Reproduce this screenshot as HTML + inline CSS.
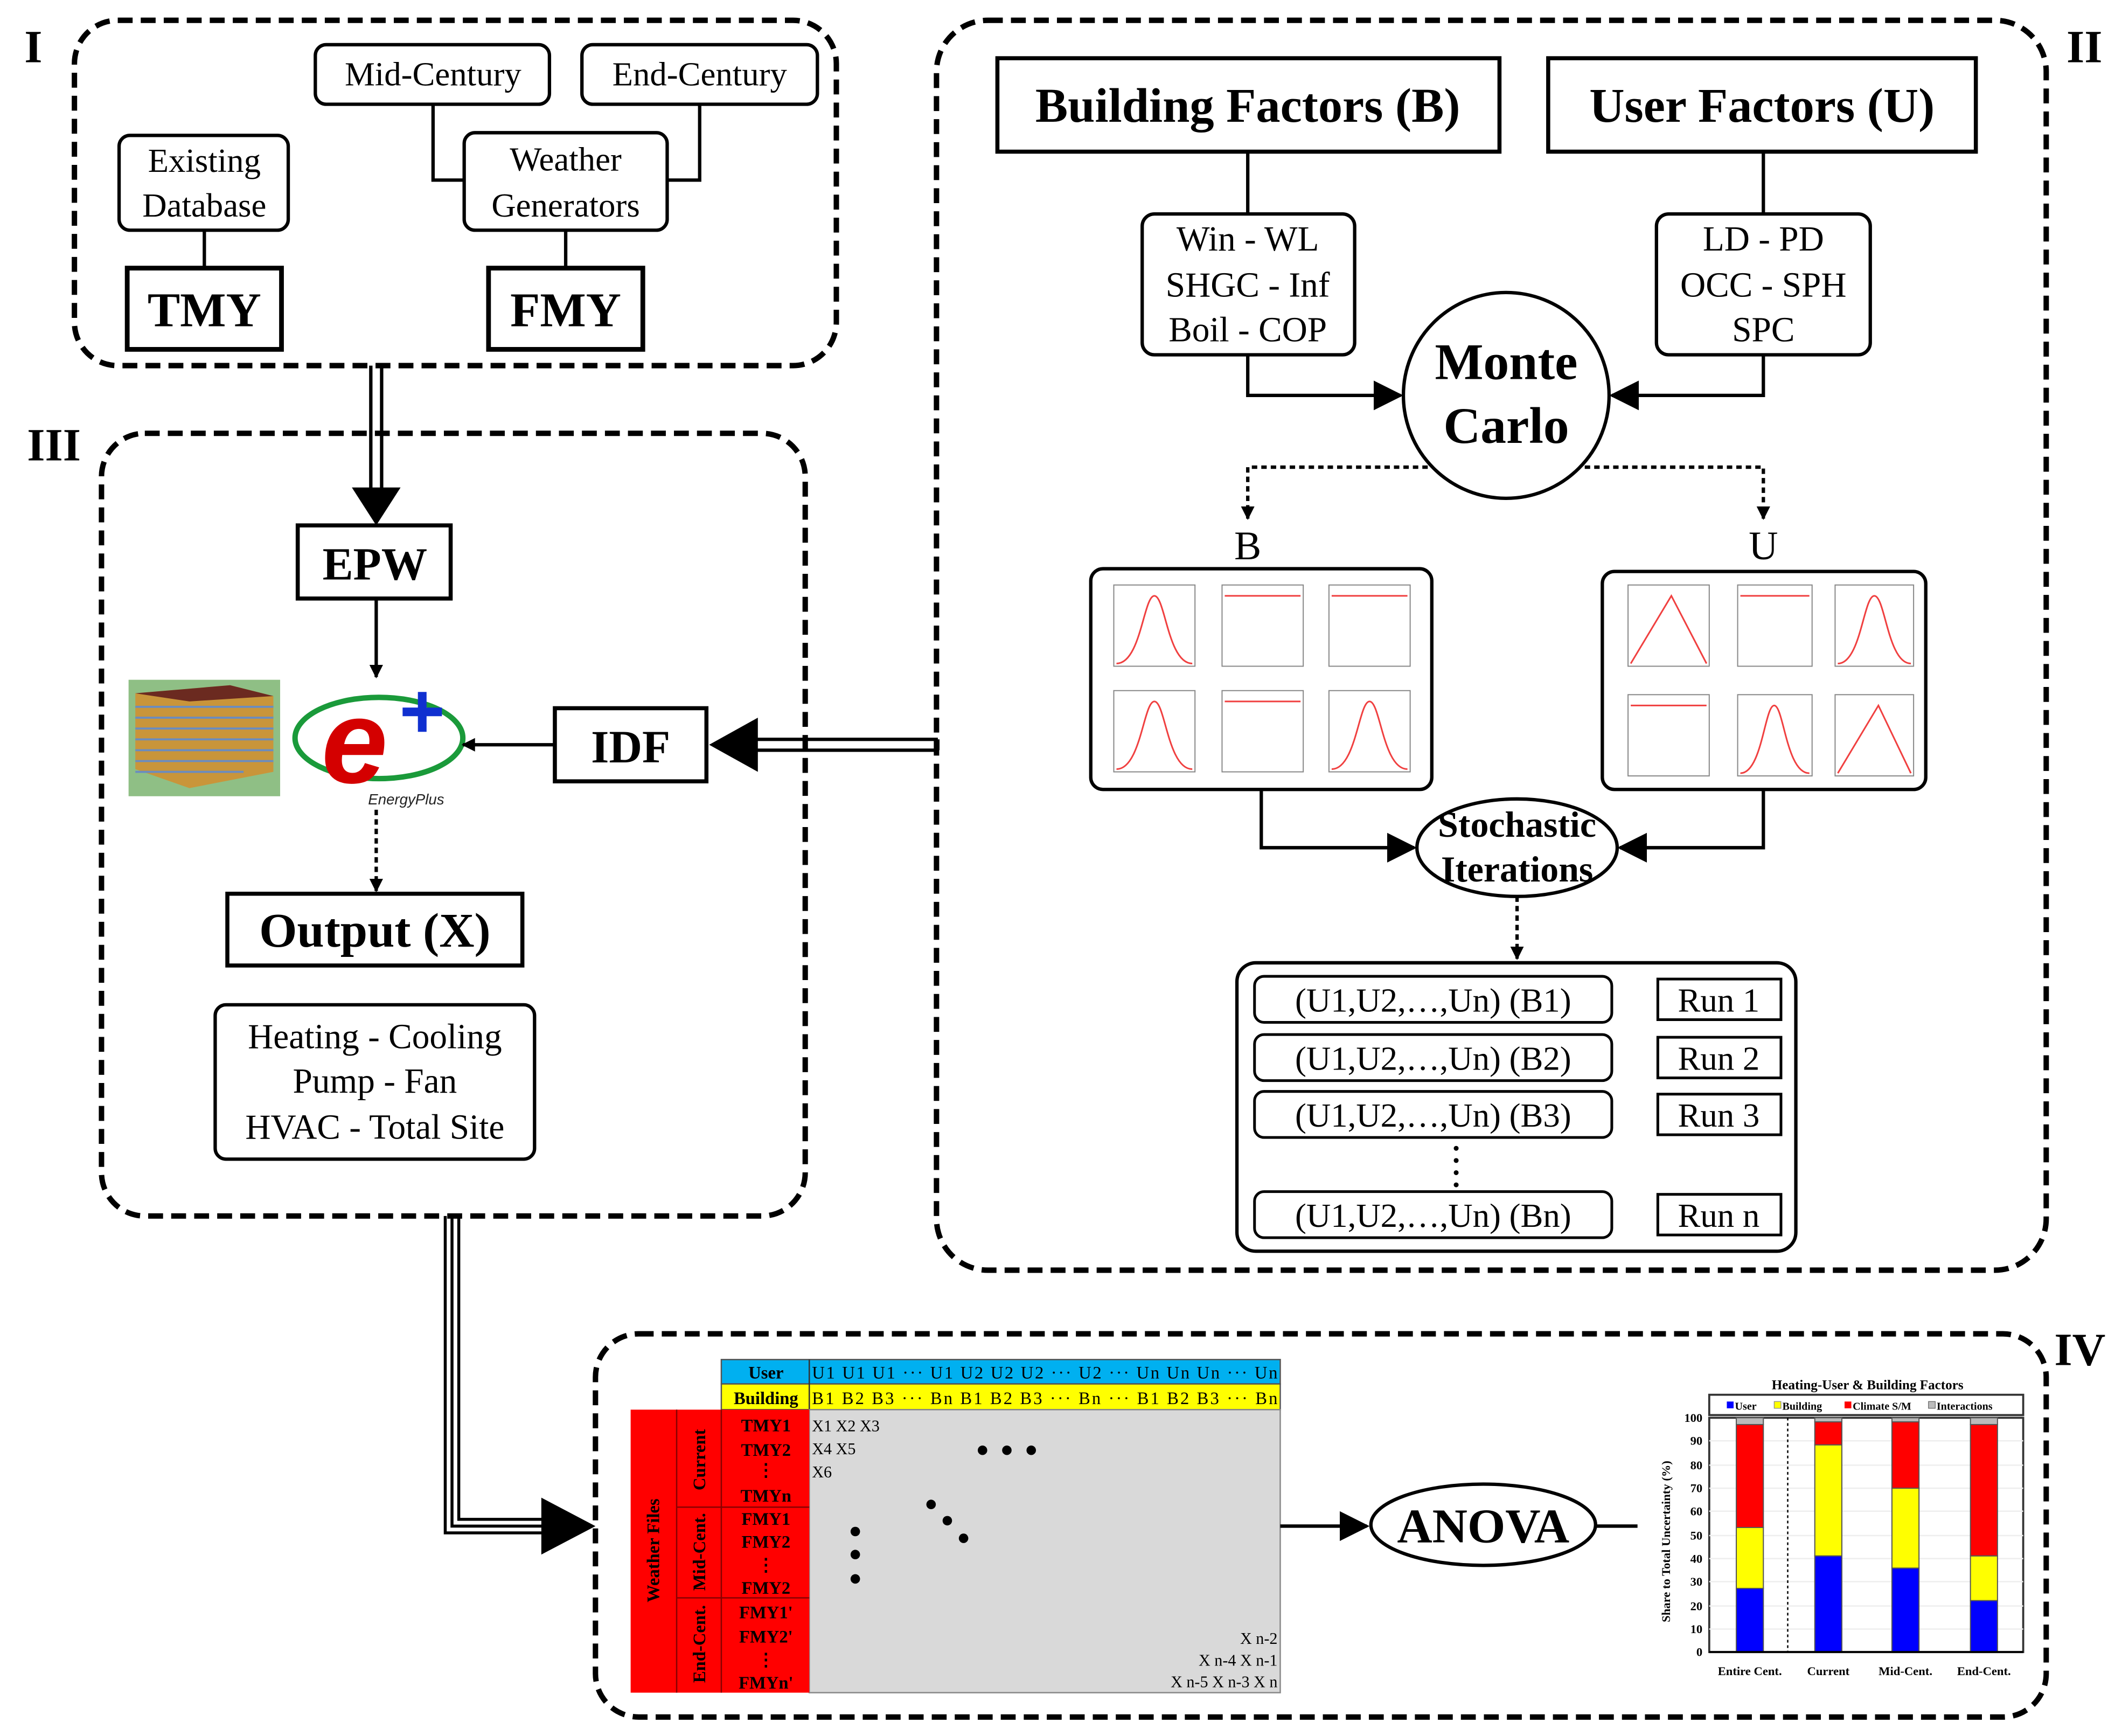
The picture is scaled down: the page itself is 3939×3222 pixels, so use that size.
<!DOCTYPE html>
<html><head><meta charset="utf-8"><style>html,body{margin:0;padding:0;background:#fff}svg{display:block}svg text{font-family:"Liberation Serif",serif}svg text.sans{font-family:"Liberation Sans",sans-serif}</style></head>
<body>
<svg xmlns="http://www.w3.org/2000/svg" width="3939" height="3222" viewBox="0 0 1568 1282" preserveAspectRatio="none">
<defs>
<marker id="ah" markerWidth="10" markerHeight="10" refX="9" refY="5" orient="auto" markerUnits="userSpaceOnUse"><path d="M0,0 L10,5 L0,10 z" fill="#000"/></marker>
<marker id="ah2" markerWidth="22" markerHeight="22" refX="20" refY="11" orient="auto" markerUnits="userSpaceOnUse"><path d="M0,0 L22,11 L0,22 z" fill="#000"/></marker>
</defs>
<rect width="1568" height="1282" fill="#fff"/>
<g fill="none" stroke="#000" stroke-width="4" stroke-dasharray="11,6">
<rect x="55" y="15" width="563" height="255" rx="32"/>
<rect x="75" y="320" width="520" height="578" rx="32"/>
<rect x="692" y="15" width="820" height="923" rx="38"/>
<rect x="440" y="985" width="1072" height="283" rx="32"/>
</g>
<g font-weight="bold" font-size="34">
<text x="18" y="46">I</text><text x="20" y="340">III</text><text x="1527" y="46">II</text><text x="1518" y="1008">IV</text>
</g>
<g fill="#fff" stroke="#000" stroke-width="2.5">
<line x1="151" y1="170" x2="151" y2="198"/>
<polyline points="320,77 320,133 343,133" fill="none"/>
<polyline points="517,77 517,133 493,133" fill="none"/>
<line x1="418" y1="170" x2="418" y2="198"/>
<rect x="88" y="100" width="125" height="70" rx="8"/>
<rect x="233" y="33" width="173" height="44" rx="8"/>
<rect x="430" y="33" width="174" height="44" rx="8"/>
<rect x="343" y="98" width="150" height="72" rx="8"/>
<rect x="94" y="198" width="114" height="60" stroke-width="3.5"/>
<rect x="361" y="198" width="114" height="60" stroke-width="3.5"/>
</g>
<g font-size="25" text-anchor="middle">
<text x="151" y="127">Existing</text><text x="151" y="160">Database</text>
<text x="320" y="63">Mid-Century</text><text x="517" y="63">End-Century</text>
<text x="418" y="126">Weather</text><text x="418" y="160">Generators</text>
</g>
<g font-size="36" font-weight="bold" text-anchor="middle"><text x="151" y="241">TMY</text><text x="418" y="241">FMY</text></g>
<g stroke="#000" stroke-width="2.5" fill="none">
<line x1="274" y1="270" x2="274" y2="365"/><line x1="282" y1="270" x2="282" y2="365"/>
</g>
<path d="M260,360 L296,360 L278,388 z"/>
<rect x="220" y="388" width="113" height="54" fill="#fff" stroke="#000" stroke-width="3"/>
<text x="277" y="428" font-size="34" font-weight="bold" text-anchor="middle">EPW</text>
<line x1="278" y1="442" x2="278" y2="500" stroke="#000" stroke-width="2.5" marker-end="url(#ah)"/>
<rect x="95" y="502" width="112" height="86" fill="#8fbf85"/>
<path d="M100,512 L170,506 L202,514 L202,570 L140,582 L100,568 z" fill="#c9953a"/>
<g stroke="#6a8cc0" stroke-width="1.5">
<line x1="100" y1="522" x2="202" y2="522"/><line x1="100" y1="530" x2="202" y2="530"/><line x1="100" y1="538" x2="202" y2="538"/><line x1="100" y1="546" x2="202" y2="546"/><line x1="100" y1="554" x2="202" y2="554"/><line x1="100" y1="562" x2="202" y2="562"/><line x1="100" y1="570" x2="180" y2="570"/>
</g>
<path d="M100,512 L170,506 L202,514 L140,518 z" fill="#6b2a20"/>
<ellipse cx="280" cy="545" rx="62" ry="30" fill="none" stroke="#1a9a3a" stroke-width="4"/>
<text class="sans" x="262" y="578" font-size="88" font-weight="bold" font-style="italic" fill="#d40000" text-anchor="middle">e</text>
<text class="sans" x="312" y="545" font-size="58" font-weight="bold" fill="#1030d0" text-anchor="middle">+</text>
<text class="sans" x="272" y="594" font-size="11" font-style="italic" fill="#222">EnergyPlus</text>
<line x1="410" y1="550" x2="342" y2="550" stroke="#000" stroke-width="2.5" marker-end="url(#ah)"/>
<rect x="410" y="523" width="112" height="54" fill="#fff" stroke="#000" stroke-width="3"/>
<text x="466" y="563" font-size="34" font-weight="bold" text-anchor="middle">IDF</text>
<g stroke="#000" stroke-width="2.5" fill="none">
<line x1="693" y1="546" x2="555" y2="546"/><line x1="693" y1="554" x2="555" y2="554"/><line x1="693" y1="546" x2="693" y2="554"/>
</g>
<path d="M560,530 L560,570 L524,550 z"/>
<line x1="278" y1="598" x2="278" y2="658" stroke="#000" stroke-width="2.5" stroke-dasharray="4,3" marker-end="url(#ah)"/>
<rect x="168" y="660" width="218" height="53" fill="#fff" stroke="#000" stroke-width="3"/>
<text x="277" y="699" font-size="36" font-weight="bold" text-anchor="middle">Output (X)</text>
<rect x="159" y="742" width="236" height="114" rx="8" fill="#fff" stroke="#000" stroke-width="2.5"/>
<g font-size="26" text-anchor="middle"><text x="277" y="774">Heating - Cooling</text><text x="277" y="807">Pump - Fan</text><text x="277" y="841">HVAC - Total Site</text></g>
<g stroke="#000" stroke-width="2.5" fill="none">
<line x1="922" y1="112" x2="922" y2="158"/><line x1="1303" y1="112" x2="1303" y2="158"/>
<polyline points="922,262 922,292 1035,292" marker-end="url(#ah2)"/>
<polyline points="1303,262 1303,292 1191,292" marker-end="url(#ah2)"/>
</g>
<rect x="737" y="43" width="371" height="69" fill="#fff" stroke="#000" stroke-width="3"/>
<rect x="1144" y="43" width="316" height="69" fill="#fff" stroke="#000" stroke-width="3"/>
<g font-size="36" font-weight="bold" text-anchor="middle"><text x="922" y="90">Building Factors (B)</text><text x="1302" y="90">User Factors (U)</text></g>
<rect x="844" y="158" width="157" height="104" rx="9" fill="#fff" stroke="#000" stroke-width="2.5"/>
<rect x="1224" y="158" width="158" height="104" rx="9" fill="#fff" stroke="#000" stroke-width="2.5"/>
<g font-size="26" text-anchor="middle">
<text x="922" y="185">Win - WL</text><text x="922" y="219">SHGC - Inf</text><text x="922" y="252">Boil - COP</text>
<text x="1303" y="185">LD - PD</text><text x="1303" y="219">OCC - SPH</text><text x="1303" y="252">SPC</text>
</g>
<circle cx="1113" cy="292" r="76" fill="#fff" stroke="#000" stroke-width="2.5"/>
<g font-size="38" font-weight="bold" text-anchor="middle"><text x="1113" y="280">Monte</text><text x="1113" y="327">Carlo</text></g>
<g stroke="#000" stroke-width="2.5" fill="none" stroke-dasharray="4,3">
<polyline points="1055,345 922,345 922,383" marker-end="url(#ah)"/>
<polyline points="1171,345 1303,345 1303,383" marker-end="url(#ah)"/>
</g>
<g font-size="30" text-anchor="middle"><text x="922" y="413">B</text><text x="1303" y="413">U</text></g>
<rect x="806" y="420" width="252" height="163" rx="9" fill="#fff" stroke="#000" stroke-width="2.5"/>
<rect x="1184" y="422" width="239" height="161" rx="9" fill="#fff" stroke="#000" stroke-width="2.5"/>
<g stroke="#888" stroke-width="0.8" fill="none">
<rect x="823" y="432" width="60" height="60"/><rect x="903" y="432" width="60" height="60"/><rect x="982" y="432" width="60" height="60"/>
<rect x="823" y="510" width="60" height="60"/><rect x="903" y="510" width="60" height="60"/><rect x="982" y="510" width="60" height="60"/>
<rect x="1203" y="432" width="60" height="60"/><rect x="1284" y="432" width="55" height="60"/><rect x="1356" y="432" width="58" height="60"/>
<rect x="1203" y="513" width="60" height="60"/><rect x="1284" y="513" width="55" height="60"/><rect x="1356" y="513" width="58" height="60"/>
</g>
<g stroke="#f04040" stroke-width="1.2" fill="none">
<path d="M825,490 C843,490 845,440 853,440 C861,440 863,490 881,490"/>
<path d="M905,440 L961,440"/><path d="M984,440 L1040,440"/>
<path d="M825,568 C843,568 845,518 853,518 C861,518 863,568 881,568"/>
<path d="M905,518 L961,518"/>
<path d="M984,568 C1002,568 1004,518 1012,518 C1020,518 1022,568 1040,568"/>
<path d="M1205,490 L1235,440 L1261,490"/><path d="M1286,440 L1337,440"/>
<path d="M1358,490 C1375,490 1377,440 1385,440 C1393,440 1395,490 1412,490"/>
<path d="M1205,521 L1261,521"/>
<path d="M1286,571 C1302,571 1304,521 1311,521 C1318,521 1320,571 1337,571"/>
<path d="M1358,571 L1388,521 L1412,571"/>
</g>
<g stroke="#000" stroke-width="2.5" fill="none">
<polyline points="932,583 932,626 1045,626" marker-end="url(#ah2)"/>
<polyline points="1303,583 1303,626 1197,626" marker-end="url(#ah2)"/>
</g>
<ellipse cx="1121" cy="626" rx="74" ry="36" fill="#fff" stroke="#000" stroke-width="2.5"/>
<g font-size="27" font-weight="bold" text-anchor="middle"><text x="1121" y="618">Stochastic</text><text x="1121" y="651">Iterations</text></g>
<line x1="1121" y1="662" x2="1121" y2="708" stroke="#000" stroke-width="2.5" stroke-dasharray="4,3" marker-end="url(#ah)"/>
<rect x="914" y="711" width="413" height="213" rx="14" fill="#fff" stroke="#000" stroke-width="2.5"/>
<g fill="#fff" stroke="#000" stroke-width="2">
<rect x="927" y="721" width="264" height="34" rx="7"/><rect x="927" y="764" width="264" height="34" rx="7"/><rect x="927" y="806" width="264" height="34" rx="7"/><rect x="927" y="880" width="264" height="34" rx="7"/>
<rect x="1225" y="723" width="91" height="30"/><rect x="1225" y="766" width="91" height="30"/><rect x="1225" y="808" width="91" height="30"/><rect x="1225" y="882" width="91" height="30"/>
</g>
<g font-size="25" text-anchor="middle">
<text x="1059" y="747">(U1,U2,…,Un) (B1)</text><text x="1059" y="790">(U1,U2,…,Un) (B2)</text><text x="1059" y="832">(U1,U2,…,Un) (B3)</text><text x="1059" y="906">(U1,U2,…,Un) (Bn)</text>
<text x="1270" y="747">Run 1</text><text x="1270" y="790">Run 2</text><text x="1270" y="832">Run 3</text><text x="1270" y="906">Run n</text>
</g>
<g fill="#000"><circle cx="1076" cy="848" r="1.8"/><circle cx="1076" cy="857" r="1.8"/><circle cx="1076" cy="866" r="1.8"/><circle cx="1076" cy="875" r="1.8"/></g>
<g stroke="#000" stroke-width="2.2" fill="none">
<polyline points="329,898 329,1132 405,1132"/><polyline points="334,898 334,1127 405,1127"/><polyline points="339,898 339,1122 405,1122"/>
</g>
<path d="M400,1106 L440,1127 L400,1148 z"/>
<rect x="533" y="1004" width="413" height="18" fill="#00b0f0" stroke="#555" stroke-width="1"/>
<rect x="533" y="1022" width="413" height="19" fill="#ffff00" stroke="#555" stroke-width="1"/>
<line x1="598" y1="1004" x2="598" y2="1041" stroke="#333" stroke-width="1"/>
<rect x="598" y="1041" width="348" height="209" fill="#d9d9d9" stroke="#888" stroke-width="1"/>
<rect x="466" y="1041" width="132" height="209" fill="#ff0000"/>
<g stroke="#800" stroke-width="1"><line x1="500" y1="1041" x2="500" y2="1250"/><line x1="533" y1="1041" x2="533" y2="1250"/><line x1="500" y1="1113" x2="598" y2="1113"/><line x1="500" y1="1180" x2="598" y2="1180"/></g>
<g font-size="13" font-weight="bold">
<text x="566" y="1018" text-anchor="middle">User</text><text x="566" y="1037" text-anchor="middle">Building</text>
</g>
<g font-size="13">
<text x="600" y="1018" textLength="344">U1 U1 U1 ··· U1 U2 U2 U2 ··· U2 ··· Un Un Un      ···      Un</text>
<text x="600" y="1037" textLength="344">B1 B2 B3 ··· Bn B1 B2 B3 ··· Bn ··· B1 B2 B3      ···      Bn</text>
</g>
<g font-size="13" font-weight="bold" text-anchor="middle">
<text x="566" y="1057">TMY1</text><text x="566" y="1075">TMY2</text><text x="566" y="1090">⋮</text><text x="566" y="1109">TMYn</text>
<text x="566" y="1126">FMY1</text><text x="566" y="1143">FMY2</text><text x="566" y="1160">⋮</text><text x="566" y="1177">FMY2</text>
<text x="566" y="1195">FMY1'</text><text x="566" y="1213">FMY2'</text><text x="566" y="1230">⋮</text><text x="566" y="1247">FMYn'</text>
<text transform="translate(487,1145) rotate(-90)">Weather Files</text>
<text transform="translate(521,1078) rotate(-90)">Current</text>
<text transform="translate(521,1146) rotate(-90)">Mid-Cent.</text>
<text transform="translate(521,1214) rotate(-90)">End-Cent.</text>
</g>
<g font-size="12">
<text x="600" y="1057">X1  X2  X3</text><text x="600" y="1074">X4  X5</text><text x="600" y="1091">X6</text>
<text x="944" y="1214" text-anchor="end">X n-2</text><text x="944" y="1230" text-anchor="end">X n-4  X n-1</text><text x="944" y="1246" text-anchor="end">X n-5 X n-3  X n</text>
</g>
<g fill="#000"><circle cx="726" cy="1071" r="3.5"/><circle cx="744" cy="1071" r="3.5"/><circle cx="762" cy="1071" r="3.5"/>
<circle cx="688" cy="1111" r="3.5"/><circle cx="700" cy="1123" r="3.5"/><circle cx="712" cy="1136" r="3.5"/>
<circle cx="632" cy="1131" r="3.5"/><circle cx="632" cy="1148" r="3.5"/><circle cx="632" cy="1166" r="3.5"/></g>
<line x1="946" y1="1127" x2="1010" y2="1127" stroke="#000" stroke-width="2.5" marker-end="url(#ah2)"/>
<ellipse cx="1096" cy="1126" rx="83" ry="30" fill="#fff" stroke="#000" stroke-width="2.5"/>
<text x="1096" y="1139" font-size="36" font-weight="bold" text-anchor="middle">ANOVA</text>
<line x1="1179" y1="1127" x2="1210" y2="1127" stroke="#000" stroke-width="2.5"/>
<text x="1380" y="1026" font-size="10" font-weight="bold" text-anchor="middle">Heating-User &amp; Building Factors</text>
<rect x="1263" y="1030" width="232" height="15" fill="#fff" stroke="#333" stroke-width="1.5"/>
<g font-size="8" font-weight="bold">
<rect x="1276" y="1035" width="5" height="5" fill="#0000ff"/><text x="1282" y="1041">User</text>
<rect x="1311" y="1035" width="5" height="5" fill="#ffff00" stroke="#888" stroke-width=".5"/><text x="1317" y="1041">Building</text>
<rect x="1363" y="1035" width="5" height="5" fill="#ff0000"/><text x="1369" y="1041">Climate S/M</text>
<rect x="1425" y="1035" width="5" height="5" fill="#bbb" stroke="#666" stroke-width=".5"/><text x="1431" y="1041">Interactions</text>
</g>
<rect x="1263" y="1047" width="232" height="173" fill="#fff" stroke="#333" stroke-width="1.5"/>
<g stroke="#eee" stroke-width="1"><line x1="1263" y1="1203" x2="1495" y2="1203"/><line x1="1263" y1="1186" x2="1495" y2="1186"/><line x1="1263" y1="1168" x2="1495" y2="1168"/><line x1="1263" y1="1151" x2="1495" y2="1151"/><line x1="1263" y1="1134" x2="1495" y2="1134"/><line x1="1263" y1="1116" x2="1495" y2="1116"/><line x1="1263" y1="1099" x2="1495" y2="1099"/><line x1="1263" y1="1082" x2="1495" y2="1082"/><line x1="1263" y1="1064" x2="1495" y2="1064"/></g>
<g stroke="#555" stroke-width="0.8">
<rect x="1283" y="1173" width="20" height="47" fill="#0000ff"/><rect x="1283" y="1128" width="20" height="45" fill="#ffff00"/><rect x="1283" y="1052" width="20" height="76" fill="#ff0000"/><rect x="1283" y="1047" width="20" height="5" fill="#bbb"/>
<rect x="1341" y="1149" width="20" height="71" fill="#0000ff"/><rect x="1341" y="1067" width="20" height="82" fill="#ffff00"/><rect x="1341" y="1050" width="20" height="17" fill="#ff0000"/><rect x="1341" y="1047" width="20" height="3" fill="#bbb"/>
<rect x="1398" y="1158" width="20" height="62" fill="#0000ff"/><rect x="1398" y="1099" width="20" height="59" fill="#ffff00"/><rect x="1398" y="1050" width="20" height="49" fill="#ff0000"/><rect x="1398" y="1047" width="20" height="3" fill="#bbb"/>
<rect x="1456" y="1182" width="20" height="38" fill="#0000ff"/><rect x="1456" y="1149" width="20" height="33" fill="#ffff00"/><rect x="1456" y="1052" width="20" height="97" fill="#ff0000"/><rect x="1456" y="1047" width="20" height="5" fill="#bbb"/>
</g>
<line x1="1321" y1="1047" x2="1321" y2="1220" stroke="#000" stroke-width="1" stroke-dasharray="2,2"/>
<line x1="1263" y1="1220" x2="1495" y2="1220" stroke="#000" stroke-width="1.5"/>
<g font-size="9" font-weight="bold" text-anchor="end">
<text x="1258" y="1223">0</text><text x="1258" y="1206">10</text><text x="1258" y="1189">20</text><text x="1258" y="1171">30</text><text x="1258" y="1154">40</text><text x="1258" y="1137">50</text><text x="1258" y="1119">60</text><text x="1258" y="1102">70</text><text x="1258" y="1085">80</text><text x="1258" y="1067">90</text><text x="1258" y="1050">100</text>
</g>
<text transform="translate(1234,1198) rotate(-90)" font-size="9" font-weight="bold">Share to Total Uncertainty (%)</text>
<g font-size="9" font-weight="bold" text-anchor="middle">
<text x="1293" y="1237">Entire Cent.</text><text x="1351" y="1237">Current</text><text x="1408" y="1237">Mid-Cent.</text><text x="1466" y="1237">End-Cent.</text>
</g>
</svg>
</body></html>
